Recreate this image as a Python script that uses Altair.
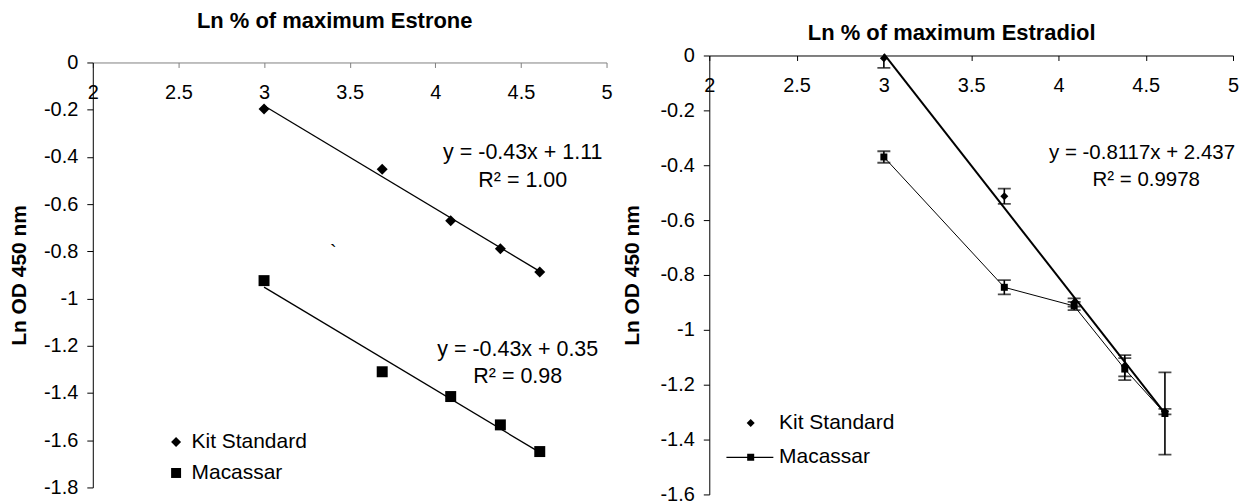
import altair as alt
import pandas as pd

FONT = "Liberation Sans"

# ---------------- data ----------------
x_vals = [3.00, 3.69, 4.09, 4.38, 4.61]
series_names = ["Kit Standard", "Macassar"]

estrone_kit = [-0.197, -0.452, -0.670, -0.789, -0.887]
estrone_mac = [-0.924, -1.310, -1.415, -1.535, -1.648]

estradiol_kit = [-0.010, -0.513, -0.900, -1.131, -1.298]
estradiol_kit_err = [0.035, 0.028, 0.015, 0.039, 0.010]
estradiol_mac = [-0.370, -0.845, -0.913, -1.143, -1.305]
estradiol_mac_err = [0.021, 0.026, 0.015, 0.040, 0.150]

x_ticks = [2, 2.5, 3, 3.5, 4, 4.5, 5]
y_ticks_estrone = [0, -0.2, -0.4, -0.6, -0.8, -1, -1.2, -1.4, -1.6, -1.8]
y_ticks_estradiol = [0, -0.2, -0.4, -0.6, -0.8, -1, -1.2, -1.4, -1.6]

estrone_title = "Ln % of maximum Estrone"
estradiol_title = "Ln % of maximum Estradiol"
y_title = "Ln OD 450 nm"

estrone_eq = ["y = -0.43x + 1.11", "R\u00b2 = 1.00", "y = -0.43x + 0.35", "R\u00b2 = 0.98"]
estradiol_eq = ["y = -0.8117x + 2.437", "R\u00b2 = 0.9978"]
stray_mark = "`"

# ---------------- tables ----------------
df_e = pd.DataFrame({
    "x": x_vals + x_vals,
    "y": estrone_kit + estrone_mac,
    "series": [series_names[0]] * 5 + [series_names[1]] * 5,
})
df_d = pd.DataFrame({
    "x": x_vals + x_vals,
    "y": estradiol_kit + estradiol_mac,
    "err": estradiol_kit_err + estradiol_mac_err,
    "series": [series_names[0]] * 5 + [series_names[1]] * 5,
})

W1, H1 = 515, 426
W2, H2 = 525, 440


def text_layer(txt, x, y, size=21.5, align="center"):
    return alt.Chart(pd.DataFrame({"t": [txt]})).mark_text(
        font=FONT, fontSize=size, color="black", align=align, baseline="middle"
    ).encode(text="t:N", x=alt.value(x), y=alt.value(y))


def x_axis(H, title, tx, ty, col):
    return alt.Axis(
        orient="bottom", offset=-H, values=x_ticks, labelExpr="datum.value + ''",
        grid=False, labelFlush=False, labelOverlap=False, labelBound=False,
        tickSize=5, labelPadding=15, domainColor=col, tickColor=col,
        labelFontSize=20, title=title, titleFontSize=22, titleFontWeight="bold",
        titleX=tx, titleY=ty, titleBaseline="middle", titleAlign="center",
    )


def y_axis(H, ticks, tx):
    return alt.Axis(
        values=ticks, labelExpr="datum.value + ''", grid=False, tickSize=6,
        labelPadding=9, labelFontSize=20, labelOverlap=False, labelBound=False,
        labelFlush=False,
        title=y_title, titleFontSize=21, titleFontWeight="bold",
        titleX=tx, titleY=H / 2, titleAngle=270, titleBaseline="middle",
        titleAlign="center",
    )


# ---------------- left: Estrone ----------------
xs1 = alt.Scale(domain=[2, 5], nice=False, zero=False)
ys1 = alt.Scale(domain=[-1.8, 0], nice=False, zero=False)
X1 = alt.X("x:Q", scale=xs1, axis=x_axis(H1, estrone_title, 242, -42, "#808080"))
Y1 = alt.Y("y:Q", scale=ys1, axis=y_axis(H1, y_ticks_estrone, -73))

base1 = alt.Chart(df_e)
fit1 = base1.transform_regression("x", "y", groupby=["series"]).mark_line(
    color="black", strokeWidth=1.3
).encode(x=X1, y=Y1, detail="series:N")
pts1 = base1.mark_point(filled=True, size=121, color="black", opacity=1).encode(
    x=X1, y=Y1,
    shape=alt.Shape(
        "series:N",
        scale=alt.Scale(domain=series_names, range=["diamond", "square"]),
        legend=alt.Legend(
            title=None, orient="none", legendX=73, legendY=370, padding=0,
            symbolSize=100, labelFontSize=21, labelColor="black",
            labelOffset=5, rowPadding=9, symbolFillColor="black",
            symbolStrokeWidth=0,
        ),
    ),
)
left = alt.layer(
    fit1, pts1,
    text_layer(estrone_eq[0], 431, 91),
    text_layer(estrone_eq[1], 431, 119),
    text_layer(estrone_eq[2], 426, 288),
    text_layer(estrone_eq[3], 426, 315),
    text_layer(stray_mark, 241, 191, size=20),
).properties(width=W1, height=H1)

# ---------------- right: Estradiol ----------------
xs2 = alt.Scale(domain=[2, 5], nice=False, zero=False)
ys2 = alt.Scale(domain=[-1.6, 0], nice=False, zero=False)
X2 = alt.X("x:Q", scale=xs2, axis=x_axis(H2, estradiol_title, 242.5, -23.5, "black"))
Y2 = alt.Y("y:Q", scale=ys2, axis=y_axis(H2, y_ticks_estradiol, -77))

base2 = alt.Chart(df_d).transform_calculate(
    lo="datum.y - datum.err", hi="datum.y + datum.err"
)
err_bars = base2.mark_rule(color="black", strokeWidth=1.6, clip=True).encode(
    x=X2, y=alt.Y("lo:Q", scale=ys2), y2="hi:Q"
)
caps = base2.transform_fold(["lo", "hi"], as_=["end", "val"]).mark_tick(
    orient="horizontal", size=13, thickness=1.8, color="black", clip=True
).encode(x=X2, y=alt.Y("val:Q", scale=ys2))
kit_fit = base2.transform_filter(alt.datum.series == series_names[0]).transform_regression(
    "x", "y"
).mark_line(color="black", strokeWidth=2).encode(x=X2, y=Y2)
mac_line = base2.transform_filter(alt.datum.series == series_names[1]).mark_line(
    color="black", strokeWidth=1
).encode(x=X2, y=Y2, order="x:Q")
kit_pts = base2.transform_filter(alt.datum.series == series_names[0]).mark_point(
    shape="diamond", filled=True, size=64, color="black", opacity=1
).encode(x=X2, y=Y2)
mac_pts = base2.transform_filter(alt.datum.series == series_names[1]).mark_point(
    shape="square", filled=True, size=49, color="black", opacity=1
).encode(x=X2, y=Y2)

kit_sym = "M0,-0.5L0.5,0L0,0.5L-0.5,0Z"
mac_sym = ("M-3.04,-0.07L2.84,-0.07L2.84,0.07L-3.04,0.07Z "
           "M-0.44,-0.44L0.44,-0.44L0.44,0.44L-0.44,0.44Z")
legend2 = base2.transform_filter("datum.x > 99").mark_point(
    filled=True, color="black", opacity=1
).encode(
    x=X2, y=Y2,
    shape=alt.Shape(
        "series:N",
        scale=alt.Scale(domain=series_names, range=[kit_sym, mac_sym]),
        legend=alt.Legend(
            title=None, orient="none", legendX=31, legendY=358, padding=0,
            symbolSize=256, labelFontSize=21, labelColor="black",
            labelOffset=18, rowPadding=12.3, symbolFillColor="black",
            symbolStrokeWidth=0,
        ),
    ),
)

right = alt.layer(
    err_bars, caps, kit_fit, mac_line, kit_pts, mac_pts, legend2,
    text_layer(estradiol_eq[0], 527, 98, size=20.5, align="right"),
    text_layer(estradiol_eq[1], 438, 125, size=20.5),
).properties(width=W2, height=H2)

chart = alt.hconcat(left, right, spacing=103, bounds="flush", center=True).resolve_scale(
    shape="independent"
).resolve_legend(shape="independent").properties(
    padding={"left": 1, "top": 1, "right": 0, "bottom": 5}
).configure_view(stroke=None).configure_axis(
    labelFont=FONT, titleFont=FONT, labelColor="black", titleColor="black",
    domainColor="black", tickColor="black", grid=False,
).configure_legend(labelFont=FONT)

chart.save("out.html", embed_options={"renderer": "svg", "actions": False})
